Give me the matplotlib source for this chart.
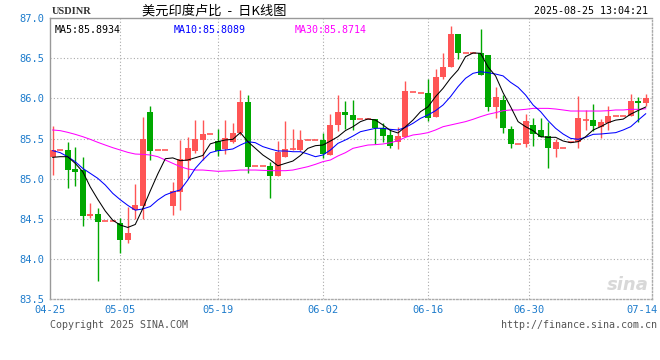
import matplotlib
matplotlib.use('Agg')
import matplotlib.pyplot as plt
import numpy as np

# daily candles, one slot per bar (flat bars = no trading)
opens = [85.275, 85.358, 85.358, 85.122, 85.109, 84.537, 84.562, 84.475, 84.475, 84.447,
         84.239, 84.612, 84.662, 85.835, 85.358, 85.358, 84.662, 84.840, 85.221, 85.350,
         85.483, 85.557, 85.470, 85.367, 85.461, 85.566, 85.955, 85.159, 85.159, 85.159,
         85.039, 85.275, 85.365, 85.358, 85.483, 85.483, 85.483, 85.296, 85.665, 85.831,
         85.794, 85.744, 85.744, 85.744, 85.636, 85.545, 85.461, 85.524, 86.076, 86.067,
         86.067, 85.765, 86.270, 86.394, 86.801, 86.561, 86.561, 86.561, 86.540, 85.889,
         85.980, 85.619, 85.433, 85.429, 85.669, 85.607, 85.532, 85.374, 85.387, 85.454,
         85.458, 85.731, 85.731, 85.648, 85.698, 85.781, 85.781, 85.781, 85.968, 85.939]
closes = [85.358, 85.358, 85.109, 85.088, 84.541, 84.560, 84.466, 84.475, 84.475, 84.239,
          84.330, 84.674, 85.495, 85.350, 85.358, 85.358, 84.852, 85.246, 85.387, 85.499,
          85.557, 85.557, 85.346, 85.504, 85.573, 85.955, 85.150, 85.159, 85.159, 85.039,
          85.337, 85.371, 85.372, 85.483, 85.483, 85.483, 85.308, 85.669, 85.831, 85.797,
          85.731, 85.744, 85.744, 85.628, 85.532, 85.408, 85.532, 86.092, 86.076, 86.067,
          85.760, 86.262, 86.394, 86.801, 86.560, 86.561, 86.561, 86.290, 85.889, 86.021,
          85.628, 85.429, 85.433, 85.719, 85.553, 85.524, 85.387, 85.458, 85.387, 85.454,
          85.755, 85.731, 85.660, 85.710, 85.781, 85.781, 85.781, 85.968, 85.939, 86.001]
highs = [85.657, 85.358, 85.461, 85.400, 85.267, 84.695, 84.640, 84.475, 84.475, 84.509,
         84.653, 84.935, 85.772, 85.905, 85.358, 85.358, 84.964, 85.483, 85.524, 85.731,
         85.731, 85.557, 85.619, 85.731, 85.698, 86.104, 86.042, 85.159, 85.159, 85.213,
         85.470, 85.719, 85.619, 85.607, 85.483, 85.483, 85.573, 85.806, 86.042, 85.968,
         85.980, 85.744, 85.744, 85.745, 85.690, 85.616, 85.648, 86.216, 86.076, 86.067,
         86.238, 86.366, 86.568, 86.900, 86.801, 86.561, 86.561, 86.863, 86.540, 86.146,
         86.042, 85.657, 85.433, 85.806, 85.752, 85.752, 85.710, 85.491, 85.387, 85.454,
         86.030, 85.855, 85.930, 85.744, 85.905, 85.781, 85.781, 86.055, 86.014, 86.055]
lows = [85.047, 85.358, 84.890, 84.910, 84.413, 84.517, 83.729, 84.475, 84.475, 84.081,
        84.205, 84.496, 84.496, 85.234, 85.358, 85.358, 84.550, 84.612, 85.006, 85.317,
        85.234, 85.557, 85.284, 85.308, 85.449, 85.545, 85.076, 85.159, 85.159, 84.757,
        85.039, 85.267, 85.362, 85.350, 85.483, 85.483, 85.255, 85.296, 85.598, 85.616,
        85.607, 85.744, 85.744, 85.429, 85.461, 85.379, 85.371, 85.524, 86.076, 86.067,
        85.719, 85.765, 86.238, 86.394, 86.486, 86.561, 86.561, 86.290, 85.847, 85.760,
        85.573, 85.379, 85.433, 85.400, 85.408, 85.516, 85.138, 85.275, 85.387, 85.454,
        85.387, 85.607, 85.598, 85.504, 85.607, 85.781, 85.781, 85.781, 85.710, 85.905]

# moving average lines as drawn
ma5 = [85.267, 85.275, 85.275, 85.192, 85.089, 84.900, 84.745, 84.600, 84.485, 84.425,
       84.395, 84.432, 84.630, 84.850, 85.060, 85.250, 85.260, 85.225, 85.234, 85.262,
       85.290, 85.435, 85.462, 85.483, 85.491, 85.575, 85.462, 85.379, 85.296, 85.234,
       85.162, 85.192, 85.221, 85.290, 85.379, 85.412, 85.420, 85.470, 85.524, 85.600,
       85.648, 85.711, 85.744, 85.731, 85.669, 85.600, 85.570, 85.648, 85.731, 85.835,
       85.895, 86.022, 86.125, 86.250, 86.353, 86.519, 86.565, 86.561, 86.390, 86.280,
       86.070, 85.897, 85.711, 85.648, 85.599, 85.524, 85.516, 85.516, 85.470, 85.449,
       85.462, 85.524, 85.607, 85.648, 85.698, 85.730, 85.742, 85.804, 85.850, 85.893]
ma10 = [85.350, 85.325, 85.275, 85.213, 85.130, 85.068, 85.006, 84.923, 84.819, 84.740,
        84.670, 84.610, 84.625, 84.655, 84.736, 84.799, 84.835, 84.861, 84.985, 85.130,
        85.234, 85.325, 85.350, 85.358, 85.371, 85.420, 85.462, 85.449, 85.400, 85.371,
        85.346, 85.346, 85.337, 85.337, 85.308, 85.275, 85.296, 85.358, 85.441, 85.483,
        85.532, 85.586, 85.607, 85.628, 85.628, 85.615, 85.607, 85.640, 85.690, 85.752,
        85.794, 85.847, 85.918, 86.022, 86.146, 86.250, 86.312, 86.332, 86.320, 86.303,
        86.280, 86.200, 86.138, 86.042, 85.918, 85.835, 85.723, 85.628, 85.557, 85.503,
        85.491, 85.516, 85.553, 85.557, 85.566, 85.574, 85.607, 85.648, 85.730, 85.809]
ma30 = [85.607, 85.599, 85.578, 85.553, 85.524, 85.491, 85.454, 85.420, 85.387, 85.358,
        85.329, 85.308, 85.304, 85.296, 85.275, 85.234, 85.192, 85.151, 85.122, 85.109,
        85.109, 85.101, 85.093, 85.097, 85.101, 85.109, 85.109, 85.109, 85.105, 85.101,
        85.101, 85.101, 85.109, 85.130, 85.151, 85.180, 85.213, 85.234, 85.284, 85.325,
        85.379, 85.400, 85.420, 85.425, 85.433, 85.449, 85.474, 85.516, 85.545, 85.557,
        85.574, 85.607, 85.648, 85.669, 85.690, 85.711, 85.740, 85.773, 85.802, 85.823,
        85.847, 85.856, 85.856, 85.864, 85.876, 85.876, 85.876, 85.868, 85.856, 85.843,
        85.843, 85.843, 85.843, 85.843, 85.847, 85.856, 85.856, 85.864, 85.864, 85.871]

date_labels = ['04-25', '05-05', '05-19', '06-02', '06-16', '06-30', '07-14']
date_slots = [-0.36, 9, 22, 36, 50, 63.5, 78.5]
price_ticks = [83.5, 84.0, 84.5, 85.0, 85.5, 86.0, 86.5, 87.0]

up_col = '#ff5555'
down_col = '#00a800'
tick_col = '#1e7ccc'
mono = 'DejaVu Sans Mono'

fig = plt.figure(figsize=(6.6, 3.6), dpi=100)
ax = fig.add_axes([50 / 660, 1 - 299.4 / 360, 602 / 660, 281.4 / 360])

x = np.arange(len(opens))
o = np.array(opens)
c = np.array(closes)
cols = np.where(c >= o, up_col, down_col)
w = 0.8

# grid
for p in price_ticks[1:-1]:
    ax.axhline(p, color='#aaaaaa', lw=0.8, ls=(0, (1, 2)), zorder=0)
for p in date_slots[1:-1]:
    ax.axvline(p, color='#aaaaaa', lw=0.8, ls=(0, (1, 2)), zorder=0)

# candles
ax.vlines(x, lows, highs, colors=cols, lw=1, zorder=2)
body_h = np.abs(c - o)
body_b = np.minimum(c, o)
thick = body_h >= 0.01
ax.bar(x[thick], body_h[thick], bottom=body_b[thick], width=w, color=cols[thick],
       lw=0, zorder=3)
flat = ~thick
ax.hlines(((c + o) / 2)[flat], x[flat] - w / 2, x[flat] + w / 2, colors=cols[flat],
          lw=1.2, zorder=3)

# MA lines
ax.plot(x, ma30, color='#ff00ff', lw=0.75, zorder=4)
ax.plot(x, ma10, color='#0000ff', lw=0.75, zorder=5)
ax.plot(x, ma5, color='black', lw=0.75, zorder=6)

ax.set_xlim(-0.36, 79.84)
ax.set_ylim(83.5, 87.0)
ax.set_yticks(price_ticks)
ax.set_yticklabels(['%.1f' % p for p in price_ticks])
ax.set_xticks(date_slots)
ax.set_xticklabels(date_labels)
ax.tick_params(length=0, labelcolor=tick_col, labelsize=7.5, pad=4)
for lab in ax.get_xticklabels() + ax.get_yticklabels():
    lab.set_family(mono)

ax.spines['top'].set_color('#999999')
ax.spines['left'].set_color('#999999')
ax.spines['bottom'].set_color('#aaaaaa')
ax.spines['right'].set_color('#aaaaaa')
ax.spines['bottom'].set_linestyle((0, (1, 1.5)))
ax.spines['right'].set_linestyle((0, (1, 1.5)))
for s in ax.spines.values():
    s.set_linewidth(1)

# MA legend text
ax.text(5 / 602, 0.975, 'MA5:85.8934', transform=ax.transAxes, family=mono,
        fontsize=7.2, color='black', va='top')
ax.text(124 / 602, 0.975, 'MA10:85.8089', transform=ax.transAxes, family=mono,
        fontsize=7.2, color='#0000ff', va='top')
ax.text(245 / 602, 0.975, 'MA30:85.8714', transform=ax.transAxes, family=mono,
        fontsize=7.2, color='#ff00ff', va='top')

# watermark
ax.text(0.995, 0.02, 'sina', transform=ax.transAxes, fontsize=13, color='#d8d8d8',
        style='italic', weight='bold', ha='right', va='bottom', zorder=1)

# header / footer
fig.text(52 / 660, 1 - 11 / 360, 'USDINR', family='Liberation Serif', fontsize=7.5,
         color='#333333', va='center', weight='bold')
fig.text(214 / 660, 1 - 11 / 360, '美元印度卢比  -  日K线图',
         family=['Noto Sans CJK SC', 'DejaVu Sans'], fontsize=9.5, color='black',
         ha='center', va='center')
fig.text(648 / 660, 1 - 11 / 360, '2025-08-25 13:04:21', family=mono, fontsize=7.2,
         color='black', ha='right', va='center')
fig.text(50 / 660, 1 - 325 / 360, 'Copyright 2025 SINA.COM', family=mono, fontsize=7.2,
         color='#555555', va='center')
fig.text(657 / 660, 1 - 325 / 360, 'http://finance.sina.com.cn', family=mono,
         fontsize=7.2, color='#555555', ha='right', va='center')

fig.savefig('out.png', dpi=100, facecolor='white')
